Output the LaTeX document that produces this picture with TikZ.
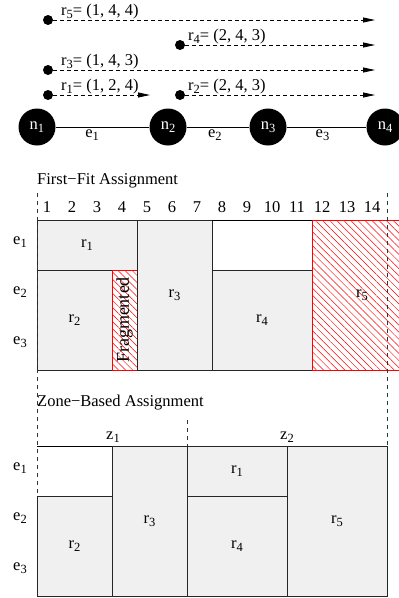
\documentclass[tikz,border=0pt]{standalone}
\usepackage{fontspec}
\setmainfont{Liberation Serif}
\usetikzlibrary{arrows.meta, patterns.meta, positioning}

% subindice algo mayor que \textsubscript
\newcommand{\idx}[1]{\raisebox{-3.5pt}{\fontsize{12.5}{13}\selectfont #1}}

\begin{document}
\begin{tikzpicture}[
    x=1pt, y=-1pt,
    every node/.style={font=\fontsize{16.5}{19}\selectfont, inner sep=1pt},
    router/.style={circle, fill=black, text=white, minimum size=37pt, inner sep=0pt},
    src/.style={circle, fill=black, minimum size=10pt, inner sep=0pt},
    req/.style={-{Triangle[length=12pt, width=5pt]}, dash pattern=on 4pt off 3pt, line width=0.8pt},
    reqlabel/.style={anchor=base west, inner sep=0pt},
    link/.style={line width=0.9pt},
    cell/.style={draw=black!85, fill=black!6, line width=0.8pt},
    frag/.style={draw=red, line width=0.8pt, pattern={Lines[angle=-45, distance=5pt, line width=0.5pt]}, pattern color=red},
    guide/.style={dash pattern=on 4pt off 4pt, draw=black!80, line width=0.9pt}
]

\clip (0,0) rectangle (399,598);

% --- Red de nodos ---
\node[router] (n1) at (37,127)  {n\idx{1}};
\node[router] (n2) at (168,127) {n\idx{2}};
\node[router] (n3) at (268,127) {n\idx{3}};
\node[router] (n4) at (385,127) {n\idx{4}};

\draw[link] (n1) -- node[below=1pt, pos=0.39] (e1) {e\idx{1}} (n2);
\draw[link] (n2) -- node[below=1pt, pos=0.45] (e2) {e\idx{2}} (n3);
\draw[link] (n3) -- node[below=1pt, pos=0.45] (e3) {e\idx{3}} (n4);

% --- Peticiones ---
\node[src] (s5) at (48,20)  {};
\node[src] (s4) at (180,45) {};
\node[src] (s3) at (48,70)  {};
\node[src] (s1) at (48,95)  {};
\node[src] (s2) at (180,95) {};
\coordinate (t5) at (375,20);
\coordinate (t4) at (375,45);
\coordinate (t3) at (375,70);
\coordinate (t1) at (150,95);
\coordinate (t2) at (375,95);

\draw[req] (s5) -- (t5);
\draw[req] (s4) -- (t4);
\draw[req] (s3) -- (t3);
\draw[req] (s1) -- (t1);
\draw[req] (s2) -- (t2);

\node[reqlabel] (l5) at (61,15)  {r\idx{5}= (1, 4, 4)};
\node[reqlabel] (l4) at (188,40) {r\idx{4}= (2, 4, 3)};
\node[reqlabel] (l3) at (61,65)  {r\idx{3}= (1, 4, 3)};
\node[reqlabel] (l1) at (61,90)  {r\idx{1}= (1, 2, 4)};
\node[reqlabel] (l2) at (188,90) {r\idx{2}= (2, 4, 3)};

% --- First-Fit ---
\node[anchor=base west, inner sep=0pt] (fftitle) at (37,184) {First−Fit Assignment};
\foreach \i in {1,...,14}
    \node (slot\i) at ({22+25*\i},207) {\i};

\node (ffe1) at (20,242) {e\idx{1}};
\node (ffe2) at (20,292) {e\idx{2}};
\node (ffe3) at (20,342) {e\idx{3}};

\draw[cell] (37,220) rectangle (137,270) node[midway] (ffr1) {r\idx{1}};
\draw[cell] (37,270) rectangle (112,370) node[midway] (ffr2) {r\idx{2}};
\draw[frag] (112,270) rectangle (137,370)
    node[midway, rotate=90, font=\fontsize{18}{20}\selectfont] (frag) {Fragmented};
\draw[cell] (137,220) rectangle (212,370) node[midway] (ffr3) {r\idx{3}};
\draw[line width=0.8pt] (212,220) -- (312,220);
\draw[cell] (212,270) rectangle (312,370) node[midway] (ffr4) {r\idx{4}};
\draw[frag] (312,220) rectangle (412,370) node[midway] (ffr5) {r\idx{5}};

% --- Zone-Based ---
\node[anchor=base west, inner sep=0pt] (zbtitle) at (37,406) {Zone−Based Assignment};
\node (z1) at (113,437) {z\idx{1}};
\node (z2) at (287,437) {z\idx{2}};

\node (zbe1) at (20,468) {e\idx{1}};
\node (zbe2) at (20,518) {e\idx{2}};
\node (zbe3) at (20,568) {e\idx{3}};

\draw[line width=0.8pt] (37,446) -- (112,446);
\draw[cell] (37,496) rectangle (112,596) node[midway] (zbr2) {r\idx{2}};
\draw[cell] (112,446) rectangle (187,596) node[midway] (zbr3) {r\idx{3}};
\draw[cell] (187,446) rectangle (287,496) node[midway] (zbr1) {r\idx{1}};
\draw[cell] (187,496) rectangle (287,596) node[midway] (zbr4) {r\idx{4}};
\draw[cell] (287,446) rectangle (387,596) node[midway] (zbr5) {r\idx{5}};

% --- Lineas guia de zonas ---
\draw[guide] (37,193) -- (37,496);
\draw[guide] (387,193) -- (387,446);
\draw[guide] (187,420) -- (187,446);

\end{tikzpicture}
\end{document}
